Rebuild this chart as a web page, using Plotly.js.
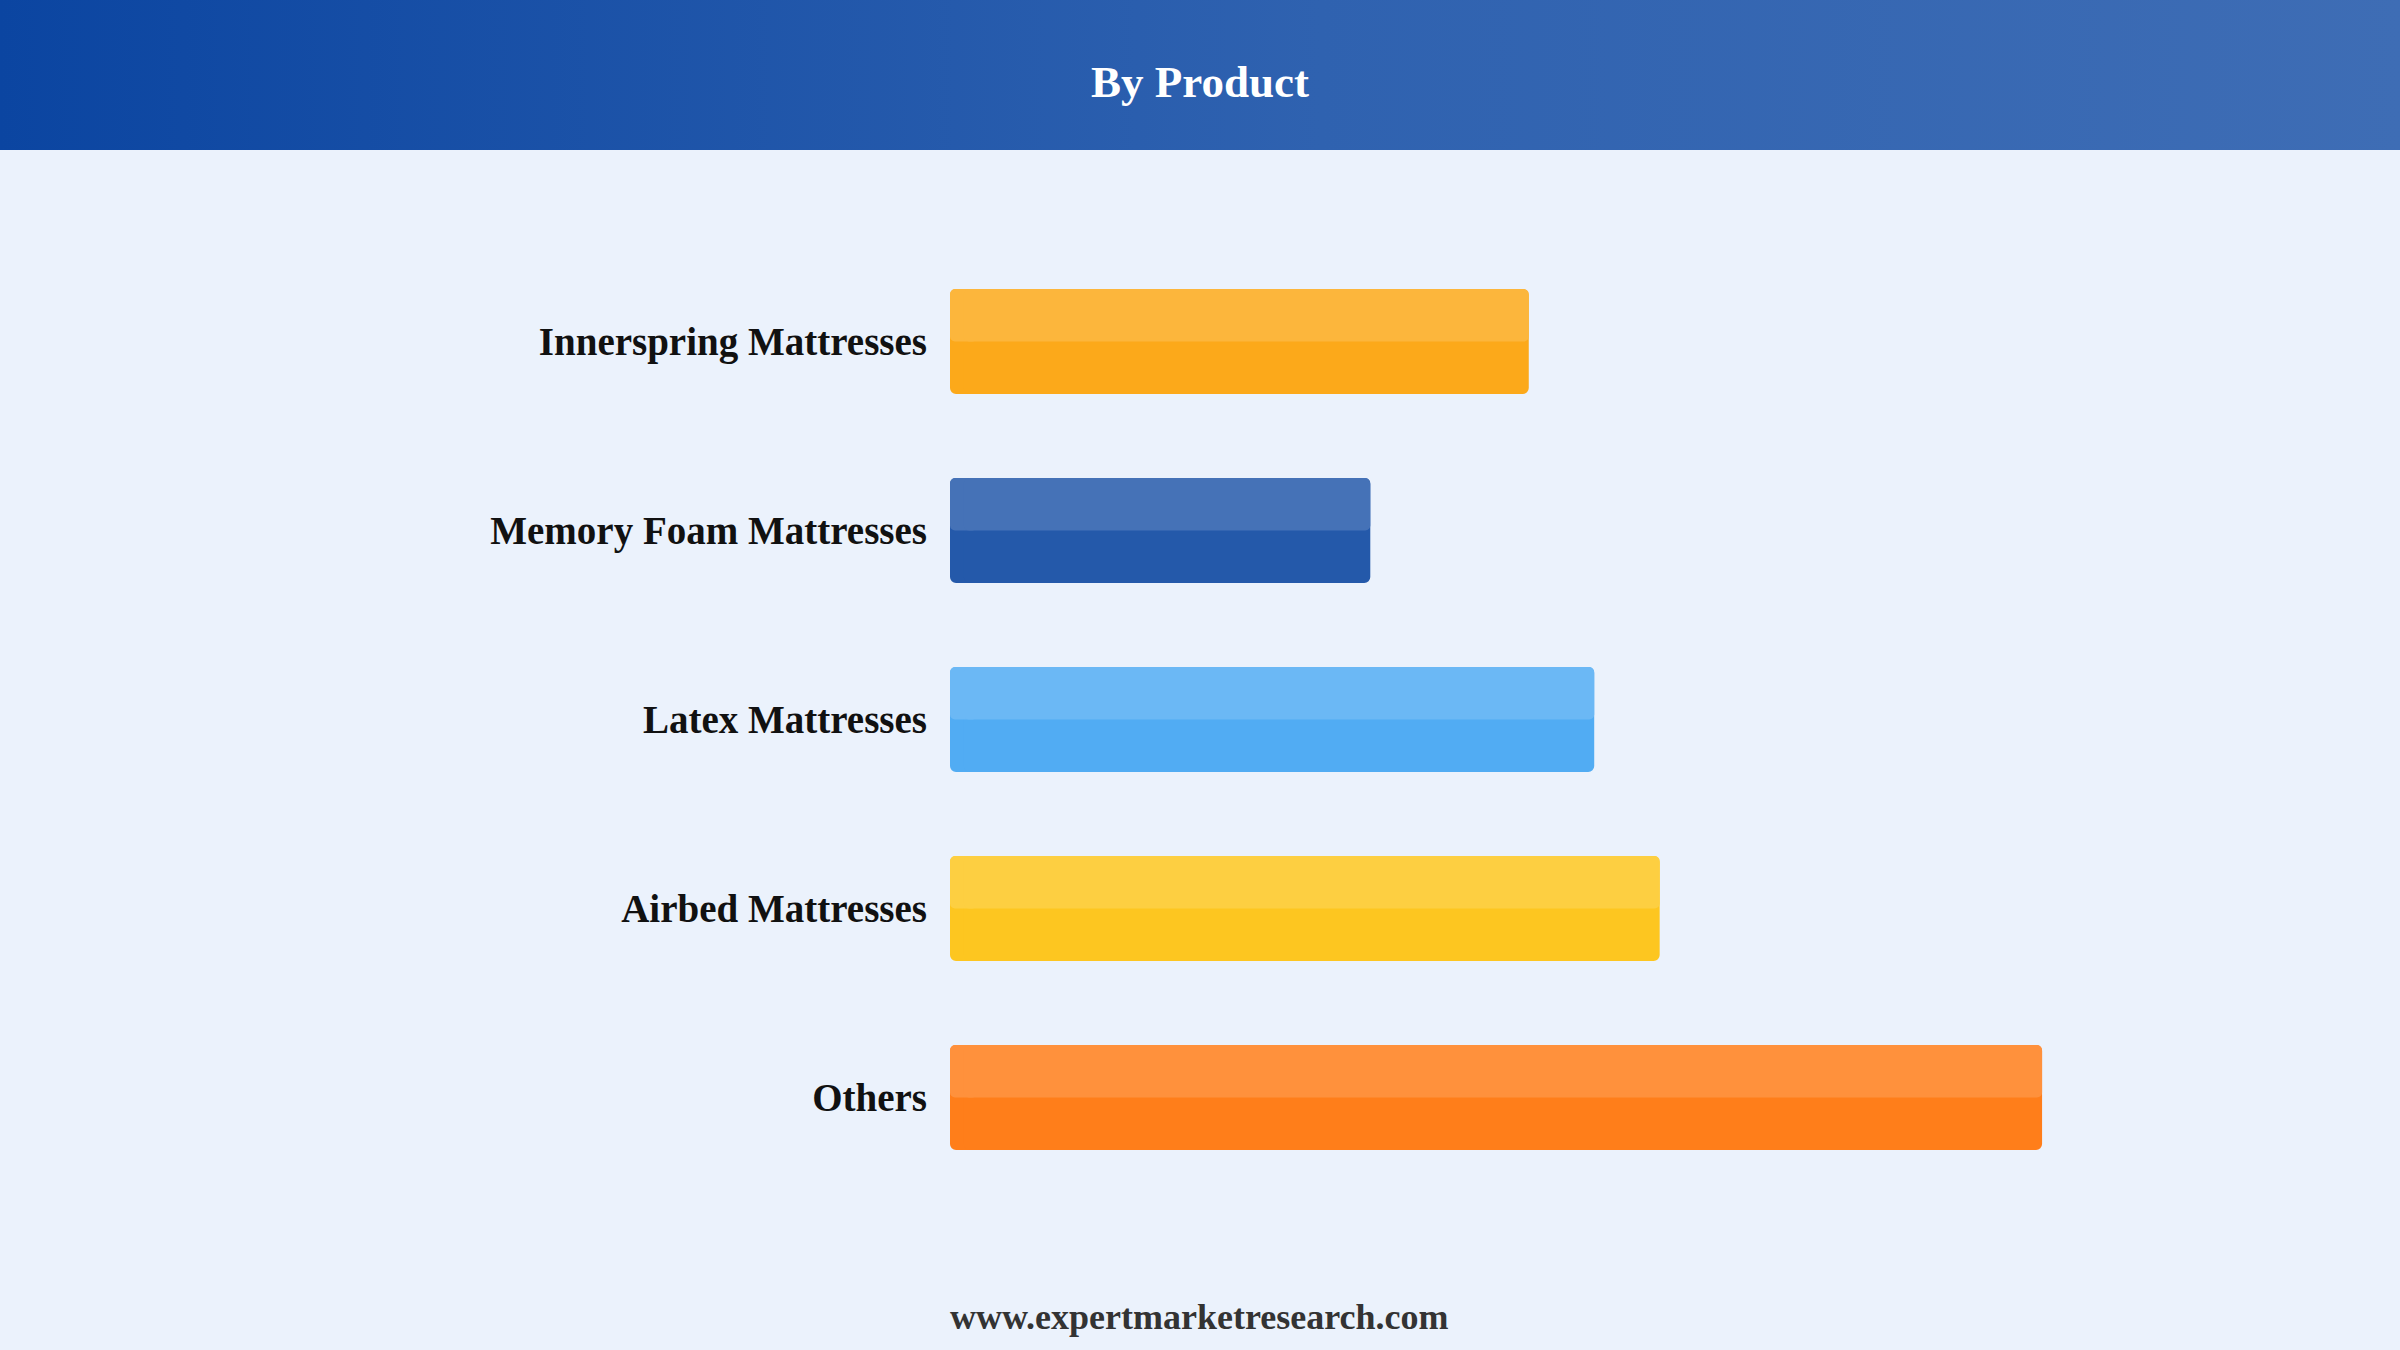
<!DOCTYPE html>
<html>
<head>
<meta charset="utf-8">
<script src="https://cdn.plot.ly/plotly-3.0.1.min.js"></script>
<style>
  html, body { margin: 0; padding: 0; }
  #chart {
    width: 2400px;
    height: 1350px;
    /* blue banner on top, pale page below */
    background: linear-gradient(to right, #0B45A1, #2F62B0 55%, #3E6DB5) top / 100% 150px no-repeat, #EBF2FC;
  }
</style>
</head>
<body>
<div id="chart"></div>
<script>
// data (shares, roughly in %)
const products = ['Innerspring Mattresses', 'Memory Foam Mattresses', 'Latex Mattresses', 'Airbed Mattresses', 'Others'];
const shares = [16.8, 12.2, 18.7, 20.6, 31.7];
const barColors = ['#FCA91A', '#2459AA', '#51ACF3', '#FDC620', '#FF7E1A'];

const serif = 'Liberation Serif, Times New Roman, serif';

// mix a hex colour with white
function lighten(hex, k) {
  const n = parseInt(hex.slice(1), 16);
  const c = [n >> 16, (n >> 8) & 255, n & 255].map(v => Math.round(v + (255 - v) * k));
  return 'rgb(' + c.join(',') + ')';
}
const topColors = barColors.map(c => lighten(c, 0.15));

// plotly only rounds one end of a bar, so a short reversed piece
// under the start of each bar gives the rounded left corners
const cap = 0.4;
const capBase = products.map(() => 2 * cap);
const capLen = products.map(() => -2 * cap);
const restBase = products.map(() => cap);
const restLen = shares.map(v => v - cap);

function bar(x, bse, width, offset, color, radius) {
  const t = {
    type: 'bar',
    orientation: 'h',
    y: products,
    x: x,
    base: bse,
    width: width,
    marker: {color: color, cornerradius: radius, line: {width: 0}},
    hoverinfo: 'skip'
  };
  if (offset !== null) t.offset = offset;
  return t;
}

const traces = [
  bar(capLen, capBase, 0.555, null, barColors, 6),
  bar(restLen, restBase, 0.555, null, barColors, 6),
  // lighter top half of every bar
  bar(capLen, capBase, 0.2775, -0.2775, topColors, 5),
  bar(restLen, restBase, 0.2775, -0.2775, topColors, 5)
];

const layout = {
  width: 2400,
  height: 1350,
  margin: {l: 950, r: 72, t: 247, b: 158, pad: 0},
  paper_bgcolor: 'rgba(0,0,0,0)',
  plot_bgcolor: 'rgba(0,0,0,0)',
  barmode: 'overlay',
  showlegend: false,
  title: {
    text: 'By Product',
    font: {family: serif, size: 45, color: '#FFFFFF', weight: 700},
    x: 0.5, xanchor: 'center',
    yref: 'container', y: 0.94, yanchor: 'middle'
  },
  xaxis: {range: [0, 40], visible: false, fixedrange: true},
  yaxis: {
    autorange: 'reversed',
    showgrid: false, zeroline: false, showline: false,
    ticks: '',
    ticklabelstandoff: 22,
    tickfont: {family: serif, size: 39, color: '#111111', weight: 700},
    fixedrange: true
  },
  annotations: [{
    text: 'www.expertmarketresearch.com',
    xref: 'paper', yref: 'paper',
    x: 0.1814, y: -0.132,
    xanchor: 'center', yanchor: 'middle',
    showarrow: false,
    font: {family: serif, size: 36, color: '#333333', weight: 700}
  }]
};

Plotly.newPlot('chart', traces, layout, {displayModeBar: false, staticPlot: true});
</script>
</body>
</html>
